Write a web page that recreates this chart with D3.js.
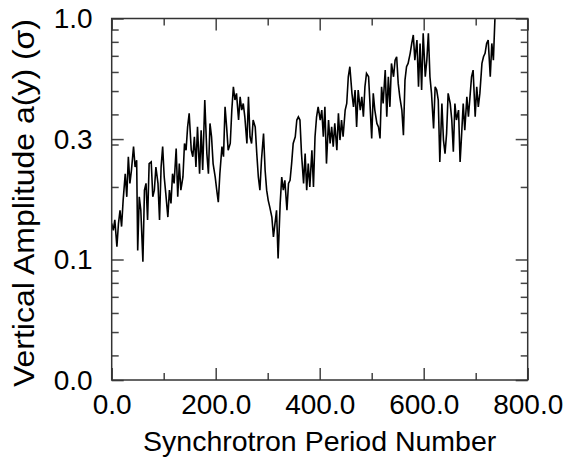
<!DOCTYPE html>
<html>
<head>
	<title>index</title>
	<meta charset="utf-8">
	<script src="https://d3js.org/d3.v7.min.js" charset="utf-8"></script>
	<style>
		body {
			margin:0;
			background:#fff;
		}
		svg {
			display:block;
			font-family:"Liberation Sans", Arial, sans-serif;
		}
		.frame {
			fill:none;
			stroke:#333;
			stroke-width:1.5;
		}
		.tick line {
			stroke:#444;
			stroke-width:1.5;
		}
		.tick text {
			fill:#000;
			font-size:28px;
		}
	</style>
</head>
<body>
<script>

	// synchrotron period number
	var periods = [0,3,6,10,13,16,19,22,26,29,32,35,38,42,45,48,50,53,56,60,63,66,69,72,76,79,82,85,89,92,
		95,98,101,104,108,111,114,117,120,124,127,130,133,137,140,143,146,149,153,156,159,162,165,169,172,175,179,183,186,189,
		192,195,199,202,205,208,212,215,218,221,224,228,231,234,237,240,244,247,250,253,256,260,263,266,269,272,276,279,282,285,
		288,292,295,298,301,304,308,311,314,317,320,324,327,330,333,337,340,343,346,349,353,356,359,362,365,369,372,375,378,381,
		385,388,391,394,397,401,404,407,410,413,417,420,423,426,429,433,436,439,442,445,449,452,455,458,462,465,468,471,474,478,
		481,484,487,490,494,497,500,503,506,510,513,516,519,522,526,529,532,535,538,542,545,548,551,554,558,561,564,567,570,574,
		577,580,583,587,590,593,596,599,603,606,609,612,615,619,622,625,628,631,635,638,641,644,647,651,654,657,660,663,667,670,
		673,676,679,683,686,689,692,695,699,702,705,708,712,715,718,721,724,728,731,734,737];

	// vertical amplitude a(y), in sigma
	var amplitude = [0.141,0.132,0.146,0.113,0.141,0.160,0.137,0.176,0.227,0.182,0.267,0.207,0.235,0.294,0.242,0.258,0.109,0.182,0.160,0.098,0.194,0.207,0.146,0.250,0.254,0.182,0.194,0.242,0.207,0.146,
		0.242,0.294,0.220,0.188,0.150,0.194,0.171,0.227,0.207,0.289,0.182,0.250,0.194,0.220,0.303,0.284,0.355,0.404,0.284,0.267,0.323,0.242,0.355,0.227,0.344,0.235,0.459,0.275,0.227,0.367,
		0.323,0.250,0.220,0.194,0.173,0.227,0.294,0.267,0.430,0.355,0.284,0.303,0.417,0.521,0.459,0.489,0.379,0.473,0.417,0.444,0.391,0.303,0.473,0.323,0.303,0.379,0.355,0.275,0.220,0.194,
		0.258,0.333,0.235,0.194,0.176,0.165,0.150,0.124,0.141,0.160,0.101,0.171,0.220,0.194,0.213,0.160,0.207,0.213,0.250,0.303,0.323,0.379,0.391,0.379,0.275,0.207,0.275,0.194,0.250,0.200,
		0.284,0.200,0.323,0.391,0.430,0.379,0.417,0.323,0.430,0.250,0.379,0.303,0.355,0.294,0.367,0.284,0.404,0.313,0.379,0.323,0.417,0.444,0.573,0.631,0.489,0.430,0.505,0.355,0.505,0.417,
		0.473,0.391,0.521,0.592,0.573,0.430,0.318,0.489,0.417,0.367,0.355,0.318,0.521,0.444,0.611,0.391,0.573,0.430,0.651,0.573,0.672,0.694,0.538,0.473,0.417,0.328,0.555,0.631,0.651,0.717,
		0.788,0.854,0.672,0.814,0.521,0.788,0.505,0.868,0.573,0.672,0.868,0.573,0.489,0.350,0.521,0.505,0.459,0.254,0.444,0.313,0.275,0.333,0.489,0.444,0.379,0.280,0.444,0.379,0.417,0.254,
		0.333,0.444,0.344,0.473,0.391,0.473,0.573,0.611,0.391,0.521,0.430,0.489,0.651,0.694,0.717,0.788,0.814,0.573,0.788,0.672,1.0];

	// axis ticks
	var xMajor = [0,200,400,600,800];
	var xMinor = [100,300,500,700];
	var xLabels = ["0.0","200.0","400.0","600.0","800.0"];
	var yMajor = [0.0316,0.1,0.316,1.0];
	var yMinor = [0.04,0.05,0.06,0.07,0.08,0.09,0.2,0.3,0.4,0.5,0.6,0.7,0.8,0.9];
	var yLabels = ["0.0","0.1","0.3","1.0"];

	var plotLeft = 111.7, plotRight = 527.7, plotTop = 18.5, plotBottom = 380;

	var svg = d3.select("body").append("svg").attr("width",567).attr("height",463);

	var x = d3.scaleLinear().domain([0,800]).range([plotLeft,plotRight]);
	var y = d3.scaleLog().domain([Math.pow(10,-1.5),1]).range([plotBottom,plotTop]);

	// clip so the last climb stops at the frame
	svg.append("clipPath").attr("id","plotclip")
		.append("rect").attr("x",plotLeft).attr("y",plotTop)
		.attr("width",plotRight-plotLeft).attr("height",plotBottom-plotTop);

	var line = d3.line()
		.x(function(d,i) { return x(periods[i]); })
		.y(function(d) { return y(d); });

	svg.append("path")
		.datum(amplitude)
		.attr("clip-path","url(#plotclip)")
		.attr("d",line)
		.attr("fill","none")
		.attr("stroke","#000")
		.attr("stroke-width",1.6)
		.attr("stroke-linejoin","miter");

	function noLabel() { return ""; }

	// x axes, ticks pointing inward
	svg.append("g").attr("transform","translate(0,"+plotBottom+")")
		.call(d3.axisBottom(x).tickValues(xMajor).tickSize(-12).tickPadding(14)
			.tickFormat(function(d,i) { return xLabels[i]; }));
	svg.append("g").attr("transform","translate(0,"+plotBottom+")")
		.call(d3.axisBottom(x).tickValues(xMinor).tickSize(-7).tickFormat(noLabel));
	svg.append("g").attr("transform","translate(0,"+plotTop+")")
		.call(d3.axisTop(x).tickValues(xMajor).tickSize(-12).tickFormat(noLabel));
	svg.append("g").attr("transform","translate(0,"+plotTop+")")
		.call(d3.axisTop(x).tickValues(xMinor).tickSize(-7).tickFormat(noLabel));

	// y axes
	svg.append("g").attr("transform","translate("+plotLeft+",0)")
		.call(d3.axisLeft(y).tickValues(yMajor).tickSize(-12).tickPadding(19)
			.tickFormat(function(d,i) { return yLabels[i]; }));
	svg.append("g").attr("transform","translate("+plotLeft+",0)")
		.call(d3.axisLeft(y).tickValues(yMinor).tickSize(-7).tickFormat(noLabel));
	svg.append("g").attr("transform","translate("+plotRight+",0)")
		.call(d3.axisRight(y).tickValues(yMajor).tickSize(-12).tickFormat(noLabel));
	svg.append("g").attr("transform","translate("+plotRight+",0)")
		.call(d3.axisRight(y).tickValues(yMinor).tickSize(-7).tickFormat(noLabel));

	svg.selectAll(".domain").remove();
	svg.selectAll(".tick text").attr("font-family",null).attr("font-size",null);

	svg.append("rect").attr("class","frame")
		.attr("x",plotLeft).attr("y",plotTop)
		.attr("width",plotRight-plotLeft).attr("height",plotBottom-plotTop);

	svg.append("text")
		.attr("x",(plotLeft+plotRight)/2)
		.attr("y",451)
		.attr("text-anchor","middle")
		.attr("font-size",28.5)
		.text("Synchrotron Period Number");

	svg.append("text")
		.attr("transform","translate(34,203) rotate(-90)")
		.attr("text-anchor","middle")
		.attr("font-size",29)
		.attr("textLength",368)
		.attr("lengthAdjust","spacingAndGlyphs")
		.text("Vertical Amplitude a(y) (σ)");

</script>
</body>
</html>
